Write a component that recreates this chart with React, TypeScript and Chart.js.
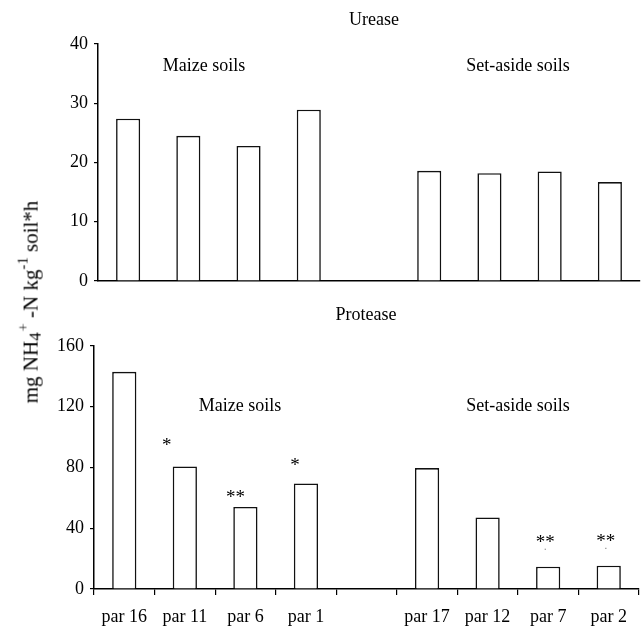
import React, { useEffect, useRef } from "react";
import { Chart, registerables } from "chart.js";

Chart.register(...registerables);

const categories = ["par 16", "par 11", "par 6", "par 1", "", "par 17", "par 12", "par 7", "par 2"];
const ureaseValues = [27.4, 24.5, 22.8, 28.9, null, 18.6, 18.2, 18.5, 16.7];
const proteaseValues = [143, 80.7, 54, 69.5, null, 79.6, 47.1, 14.7, 15.3];
const proteaseMarks = ["", "*", "**", "*", "", "", "", "**", "**"];
const ureaseTicks = [0, 10, 20, 30, 40];
const proteaseTicks = [0, 40, 80, 120, 160];

const SERIF = "'Liberation Serif', 'Times New Roman', serif";
// layout offsets (px) of significance marks relative to bar centre / bar top
const MARK_OFFSETS: [number, number][] = [
  [0, 0], [-18, 25], [-10, 14], [-11, 22], [0, 0], [0, 0], [0, 0], [-3, 29], [-3, 29],
];
const MARK_DOTS = [false, false, false, false, false, false, false, true, true];

type TextItem = { text: string; x: number; y: number; size: number };

const annotPlugin = {
  id: "annot",
  afterDraw(chart: any) {
    const opts = chart.options.plugins.annot;
    if (!opts) return;
    const ctx = chart.ctx;
    ctx.save();
    ctx.fillStyle = "#000";
    ctx.textAlign = "center";
    ctx.textBaseline = "middle";
    (opts.texts as TextItem[]).forEach((t) => {
      ctx.font = `${t.size}px ${SERIF}`;
      ctx.fillText(t.text, t.x, t.y);
    });
    if (opts.marks) {
      const xs = chart.scales.x;
      const ys = chart.scales.y;
      const data = chart.data.datasets[0].data;
      ctx.font = `19px ${SERIF}`;
      ctx.textBaseline = "alphabetic";
      (opts.marks as string[]).forEach((m, i) => {
        if (!m) return;
        const cx = xs.getPixelForValue(i) + MARK_OFFSETS[i][0];
        const cy = ys.getPixelForValue(data[i]) - MARK_OFFSETS[i][1];
        ctx.fillText(m, cx, cy + 10);
        if (MARK_DOTS[i]) {
          ctx.fillStyle = "#888";
          ctx.fillRect(cx - 0.5, cy + 11, 1.2, 1.2);
          ctx.fillStyle = "#000";
        }
      });
    }
    ctx.restore();
  },
};

function makeConfig(values: (number | null)[], ticks: number[], opts: any) {
  return {
    type: "bar" as const,
    data: {
      labels: categories,
      datasets: [
        {
          data: values,
          backgroundColor: "#fff",
          borderColor: "#111",
          borderWidth: 1.6,
          barPercentage: 0.4,
          categoryPercentage: 1.0,
        },
      ],
    },
    options: {
      responsive: false,
      animation: false as const,
      layout: { padding: opts.padding },
      plugins: {
        legend: { display: false },
        tooltip: { enabled: false },
        annot: { texts: opts.texts, marks: opts.marks },
      },
      scales: {
        y: {
          min: ticks[0],
          max: ticks[ticks.length - 1],
          afterBuildTicks: (s: any) => {
            s.ticks = ticks.map((v) => ({ value: v }));
          },
          ticks: {
            color: "#000",
            font: { family: SERIF, size: 18 },
            padding: 6,
          },
          grid: {
            display: true,
            drawOnChartArea: false,
            drawTicks: true,
            tickLength: 4,
            color: "#000",
            lineWidth: 1.2,
          },
          border: { display: true, color: "#000", width: 1.5 },
          afterFit: (s: any) => {
            s.width = opts.yWidth;
          },
        },
        x: {
          offset: true,
          ticks: {
            display: opts.showX,
            color: "#000",
            font: { family: SERIF, size: 18 },
            padding: 11,
            maxRotation: 0,
            autoSkip: false,
          },
          grid: {
            display: opts.showX,
            offset: true,
            drawOnChartArea: false,
            drawTicks: true,
            tickLength: 6,
            color: "#000",
            lineWidth: 1.2,
          },
          border: { display: true, color: "#000", width: 1.5 },
          afterFit: (s: any) => {
            s.height = opts.xHeight;
          },
        },
      },
    },
    plugins: [annotPlugin],
  };
}

export default function App() {
  const topRef = useRef<HTMLCanvasElement>(null);
  const botRef = useRef<HTMLCanvasElement>(null);

  useEffect(() => {
    const top = new Chart(
      topRef.current!,
      makeConfig(ureaseValues, ureaseTicks, {
        padding: { left: 0, right: 2, top: 44, bottom: 0 },
        yWidth: 98,
        xHeight: 19,
        showX: false,
        texts: [
          { text: "Urease", x: 374, y: 20, size: 18 },
          { text: "Maize soils", x: 204, y: 66, size: 18 },
          { text: "Set-aside soils", x: 518, y: 66, size: 18 },
        ],
        marks: null,
      }) as any
    );
    const bot = new Chart(
      botRef.current!,
      makeConfig(proteaseValues, proteaseTicks, {
        padding: { left: 0, right: 3, top: 46, bottom: 0 },
        yWidth: 94,
        xHeight: 37,
        showX: true,
        texts: [
          { text: "Protease", x: 366, y: 15, size: 18 },
          { text: "Maize soils", x: 240, y: 106, size: 18 },
          { text: "Set-aside soils", x: 518, y: 106, size: 18 },
        ],
        marks: proteaseMarks,
      }) as any
    );
    return () => {
      top.destroy();
      bot.destroy();
    };
  }, []);

  return (
    <div
      style={{
        position: "fixed",
        left: 0,
        top: 0,
        width: 642,
        height: 626,
        background: "#fff",
        overflow: "hidden",
      }}
    >
      <canvas ref={topRef} width={642} height={300} style={{ position: "absolute", left: 0, top: 0 }} />
      <canvas ref={botRef} width={642} height={326} style={{ position: "absolute", left: 0, top: 300 }} />
      <div
        style={{
          position: "absolute",
          left: 29,
          top: 302,
          transform: "translate(-50%, -50%) rotate(-90deg)",
          whiteSpace: "nowrap",
          fontFamily: SERIF,
          fontSize: 21,
          color: "#000",
          lineHeight: "24px",
        }}
      >
        mg NH<sub style={{ fontSize: "0.8em", verticalAlign: "-0.15em" }}>4</sub>
        <sup style={{ fontSize: "0.7em", verticalAlign: "0.7em", marginLeft: 1 }}>+</sup>
        {" "}-N kg<sup style={{ fontSize: "0.7em", verticalAlign: "0.7em" }}>-1</sup> soil*h
      </div>
    </div>
  );
}
